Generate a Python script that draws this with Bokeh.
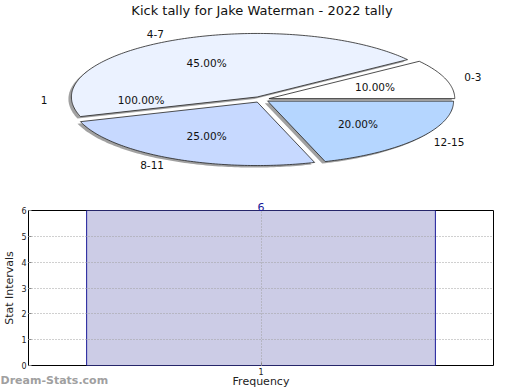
import numpy as np
from bokeh.plotting import figure
from bokeh.models import Range1d, ColumnDataSource, Label, FixedTicker, LinearAxis
from bokeh.layouts import column
from bokeh.core.properties import value
from bokeh.embed import file_html
from bokeh.resources import INLINE

# ---------------- data ----------------
chart_title = "Kick tally for Jake Waterman - 2022 tally"
pie_labels = ["0-3", "4-7", "8-11", "12-15"]
pie_values = [10.0, 45.0, 25.0, 20.0]
pie_colors = ["#FFFFFF", "#EBF2FF", "#C7D9FF", "#B5D6FF"]
second_labels = ["1"]
second_values = [100.0]

bar_categories = ["1"]
bar_values = [6]
y_ticks = [0, 1, 2, 3, 4, 5, 6]
x_title = "Frequency"
y_title = "Stat Intervals"
watermark = "Dream-Stats.com"

FONT = "DejaVu Sans"
W = 520
L, R = 25, 27  # frame borders shared by both figures

# ---------------- pie (top) ----------------
top = figure(width=W, height=195, x_range=Range1d(L, W - R), y_range=Range1d(195, 0),
             output_backend="svg", toolbar_location=None, tools="",
             x_axis_location=None, y_axis_location=None,
             min_border_left=L, min_border_right=R, min_border_top=0, min_border_bottom=0)
top.grid.visible = False
top.outline_line_color = None

CX, CY, RX, RY = 259.0, 99.0, 187.0, 63.5
EXPLODE = 0.045
SHX, SHY = -3.0, 2.0


def slices(values):
    total = float(sum(values))
    out = []
    cum = 0.0
    for v in values:
        a0 = 2 * np.pi * cum / total
        a1 = 2 * np.pi * (cum + v) / total
        out.append((a0, a1, (a0 + a1) / 2, v / total * 100))
        cum += v
    return out


sl = slices(pie_values)
xs, ys, sxs, sys_ = [], [], [], []
for a0, a1, mid, pct in sl:
    ox = EXPLODE * RX * np.cos(mid)
    oy = -EXPLODE * RY * np.sin(mid)
    t = np.linspace(a0, a1, max(int(np.degrees(a1 - a0)), 2) + 1)
    px = np.concatenate([[CX + ox], CX + ox + RX * np.cos(t)])
    py = np.concatenate([[CY + oy], CY + oy - RY * np.sin(t)])
    xs.append(list(px)); ys.append(list(py))
    sxs.append(list(px + SHX)); sys_.append(list(py + SHY))

top.patches(xs=sxs, ys=sys_, fill_color="#8a8a8a", fill_alpha=0.8, line_color=None)
top.patches(xs=xs, ys=ys, fill_color=pie_colors, line_color="#222222", line_width=0.8)

K_IN, K_OUT = 0.645, 1.15
pct_src = ColumnDataSource(dict(
    x=[CX + K_IN * RX * np.cos(m) for _, _, m, _ in sl],
    y=[CY - K_IN * RY * np.sin(m) for _, _, m, _ in sl],
    t=["%.2f%%" % p for _, _, _, p in sl]))
top.text(x="x", y="y", text="t", source=pct_src, text_font=value(FONT),
         text_font_size="10.5px", text_align="center", text_baseline="middle", text_color="#111111")

lab_x, lab_y, lab_t, lab_a = [], [], [], []
for (a0, a1, m, p), name in zip(sl, pie_labels):
    lab_x.append(CX + K_OUT * RX * np.cos(m)); lab_y.append(CY - K_OUT * RY * np.sin(m))
    lab_t.append(name); lab_a.append("right" if np.cos(m) < 0 else "left")

sl2 = slices(second_values)
for (a0, a1, m, p), name in zip(sl2, second_labels):
    lab_x.append(CX + K_OUT * RX * np.cos(m)); lab_y.append(CY - K_OUT * RY * np.sin(m))
    lab_t.append(name); lab_a.append("right" if np.cos(m) < 0 else "left")
top.text(x=lab_x, y=lab_y, text=lab_t, text_align=lab_a, text_font=value(FONT),
         text_font_size="10.5px", text_baseline="middle", text_color="#111111")
top.text(x=[CX + K_IN * RX * np.cos(m) for _, _, m, _ in sl2],
         y=[CY - K_IN * RY * np.sin(m) for _, _, m, _ in sl2],
         text=["%.2f%%" % p for _, _, _, p in sl2], text_font=value(FONT),
         text_font_size="10.5px", text_align="center", text_baseline="middle", text_color="#111111")

top.add_layout(Label(x=260, y=10, text=chart_title, text_font=FONT, text_font_size="13px",
                     text_align="center", text_baseline="middle", text_color="#111111"))

# ---------------- bar (bottom) ----------------
bar_x = [i + 1 for i in range(len(bar_categories))]
bot = figure(width=W, height=195, x_range=Range1d(0.5, len(bar_categories) + 0.5), y_range=Range1d(0, 6),
             output_backend="svg", toolbar_location=None, tools="",
             x_axis_location=None, y_axis_location="left",
             min_border_left=L, min_border_right=R, min_border_top=15, min_border_bottom=21)
bot.outline_line_color = "black"
bot.outline_line_width = 1
bot.extra_x_ranges = {"wm": Range1d(L, W - R)}

src = ColumnDataSource(dict(x=bar_x, top=bar_values))
bot.vbar(x="x", top="top", width=0.75, source=src, fill_color="#CCCCE6", line_color="#1A1A99", line_width=1)

bot.xgrid.ticker = FixedTicker(ticks=bar_x)
for g in bot.grid:
    g.grid_line_color = "#a0a0a0"
    g.grid_line_dash = "1 2"
    g.grid_line_width = 1
    g.level = "annotation"

# y axis
yax = bot.yaxis[0]
yax.ticker = FixedTicker(ticks=y_ticks)
yax.axis_label = y_title
yax.axis_label_text_font = FONT
yax.axis_label_text_font_size = "11px"
yax.axis_label_text_font_style = "normal"
yax.axis_label_text_color = "#222222"
yax.axis_label_standoff = 2

# main x axis (closest to frame)
xax = LinearAxis(ticker=FixedTicker(ticks=bar_x),
                 major_label_overrides={x: c for x, c in zip(bar_x, bar_categories)})
xax.axis_label = x_title
xax.axis_label_text_font = FONT
xax.axis_label_text_font_size = "11px"
xax.axis_label_text_font_style = "normal"
xax.axis_label_text_color = "#222222"
xax.axis_label_standoff = -3
bot.add_layout(xax, "below")

# watermark axis (pulled up beside the x tick labels)
wm = LinearAxis(x_range_name="wm", ticker=FixedTicker(ticks=[51]), major_label_overrides={51: watermark})
wm.axis_line_color = None
wm.major_tick_line_color = None
wm.minor_tick_line_color = None
wm.major_tick_out = 0
wm.major_tick_in = 0
wm.major_label_standoff = -17
wm.major_label_text_font = FONT
wm.major_label_text_font_size = "11px"
wm.major_label_text_font_style = "bold"
wm.major_label_text_color = "#a0a0a0"
bot.add_layout(wm, "below")

# value label above bar
vax = LinearAxis(ticker=FixedTicker(ticks=bar_x),
                 major_label_overrides={x: str(v) for x, v in zip(bar_x, bar_values)})
vax.axis_line_color = None
vax.major_tick_line_color = None
vax.minor_tick_line_color = None
vax.major_tick_out = 0
vax.major_tick_in = 0
vax.major_label_standoff = 0
vax.major_label_text_font = FONT
vax.major_label_text_font_size = "11px"
vax.major_label_text_color = "#1A1A99"
bot.add_layout(vax, "above")

for ax in (yax, xax):
    ax.axis_line_color = None
    ax.major_tick_in = 3
    ax.major_tick_out = 0
    ax.minor_tick_line_color = None
    ax.major_tick_line_color = "#888888"
    ax.major_label_text_font = FONT
    ax.major_label_text_font_size = "8px"
    ax.major_label_text_color = "#222222"
    ax.major_label_standoff = 2

layout = column(top, bot, spacing=0)
open("out.html", "w").write(file_html(layout, INLINE))
